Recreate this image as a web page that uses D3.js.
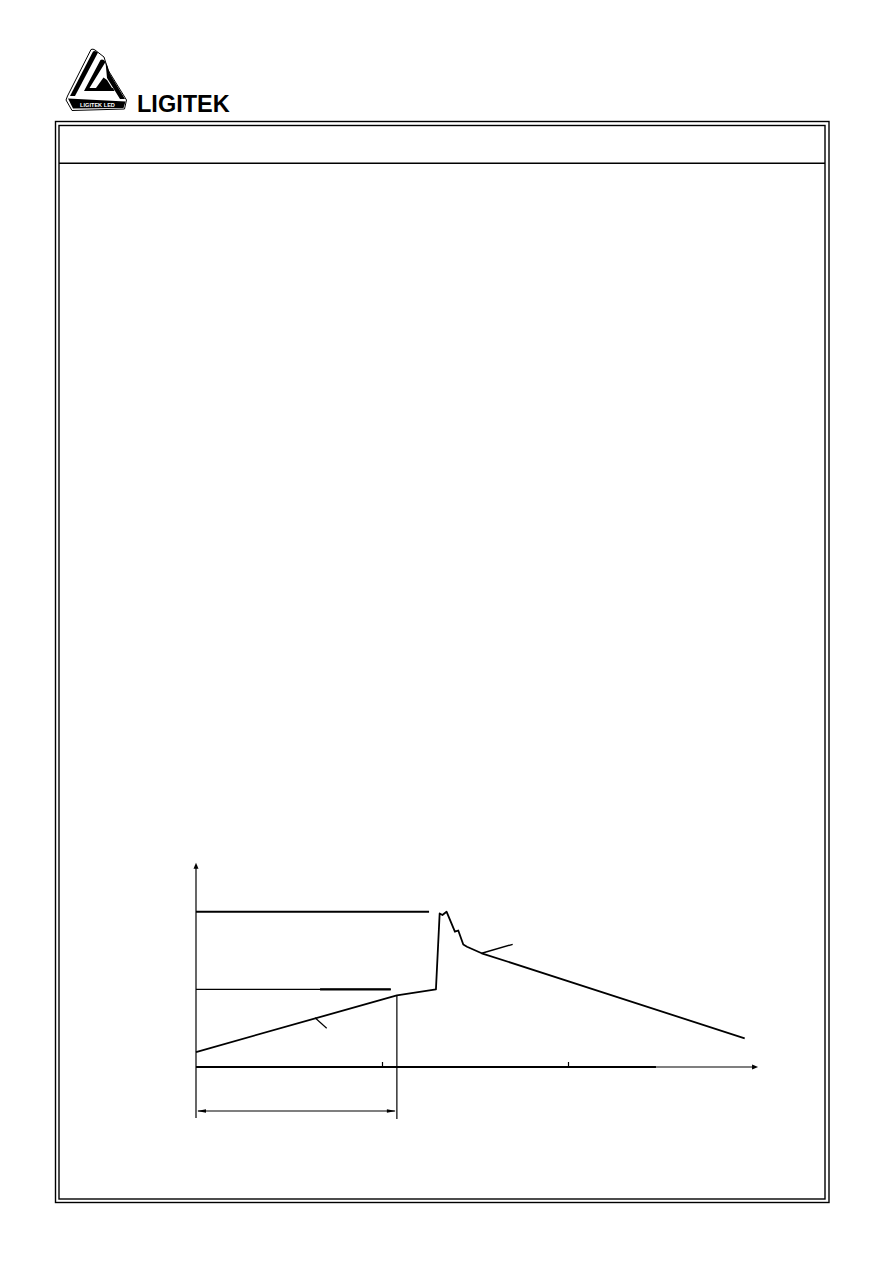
<!DOCTYPE html>
<html><head><meta charset="utf-8">
<script src="https://cdn.jsdelivr.net/npm/d3@7"></script>
<style>body{margin:0;background:#fff}svg{display:block}</style>
</head><body>
<script>
// Reflow soldering profile (time in s, temperature in °C)
const profileTime = [0, 108, 129, 131, 132.5, 134.7, 139.2, 141, 143.7, 145.7, 153.6, 295];
const profileTemp = [25, 120, 130, 257, 254.5, 260, 226.5, 228.5, 205, 201.4, 190.4, 48];
const limitTemps = [260, 130];          // horizontal reference lines
const limitEnds = [125.3, 104.7];       // where each reference line stops (s)
const xTicks = [100, 200];
const preheatEnd = 108;                 // dimension / vertical line
const brandName = "LIGITEK";
const logoText = "LIGITEK LED";

const W = 892, H = 1261;
const svg = d3.select("body").append("svg").attr("width", W).attr("height", H);

// page frame
svg.append("rect").attr("x", 55.5).attr("y", 121.5).attr("width", 773.5).attr("height", 1081)
  .attr("fill", "none").attr("stroke", "#000").attr("stroke-width", 1.4);
svg.append("rect").attr("x", 59).attr("y", 125.5).attr("width", 766).attr("height", 1073.5)
  .attr("fill", "none").attr("stroke", "#000").attr("stroke-width", 1.4);
svg.append("line").attr("x1", 59).attr("x2", 825).attr("y1", 163.3).attr("y2", 163.3)
  .attr("stroke", "#000").attr("stroke-width", 1.4);

// logo
const lg = svg.append("g");
// thin outer outline
lg.append("path").attr("d", "M91,49.5 Q93,48.5 95,50 L104,57 L108,70 L126.5,100 L124.5,109 L72,110.5 L66,100 L67.5,96 Z")
  .attr("fill", "none").attr("stroke", "#000").attr("stroke-width", 1);
// band A (left stroke)
lg.append("path").attr("d", "M93,51.5 Q95,50 98,52.5 L75,96 L70,96 Z").attr("fill", "#000");
// band B with L foot
lg.append("path").attr("d", "M100.5,60 Q103,58.5 105.5,62 L89.5,88 L113,88 L114.5,91 L84,91 Z").attr("fill", "#000");
// small triangle
lg.append("path").attr("d", "M96,88 L103.5,77.5 L107,80 L112,88 Z").attr("fill", "#000");
// right band
lg.append("path").attr("d", "M105.5,62 L107.5,66 L110,74 L125,99 L120,99 L107,78 Z").attr("fill", "#000");
// banner
lg.append("path").attr("d", "M68,98.5 L125.5,101.5 L123.5,108 L73,108.5 Z").attr("fill", "#000");
lg.append("text").attr("x", 97.5).attr("y", 106.8).attr("text-anchor", "middle")
  .attr("font-family", "Liberation Sans, Arial, sans-serif").attr("font-size", 5.6).attr("font-weight", "bold")
  .attr("fill", "#fff").text(logoText);
svg.append("text").attr("x", 137).attr("y", 112.3)
  .attr("font-family", "Liberation Sans, Arial, sans-serif").attr("font-size", 23.5).attr("font-weight", "bold")
  .attr("fill", "#000").text(brandName);

// scales
const x = d3.scaleLinear().domain([0, 200]).range([196, 568]);
const y = d3.scaleLinear().domain([0, 260]).range([1067, 911.7]);
const xEnd = 302.2, yTop = 342, xThickEnd = 247.3;

const g = svg.append("g");
// y axis
g.append("line").attr("x1", x(0)).attr("x2", x(0)).attr("y1", y(yTop) + 4).attr("y2", 1118)
  .attr("stroke", "#000").attr("stroke-width", 1.2);
g.append("path").attr("d", `M${x(0)},${y(yTop)} l-2.5,6 l5,0 Z`).attr("fill", "#000");
// x axis
g.append("line").attr("x1", x(0)).attr("x2", x(xThickEnd)).attr("y1", y(0)).attr("y2", y(0))
  .attr("stroke", "#000").attr("stroke-width", 2.2);
g.append("line").attr("x1", x(xThickEnd)).attr("x2", x(xEnd) - 3).attr("y1", y(0)).attr("y2", y(0))
  .attr("stroke", "#000").attr("stroke-width", 1.2);
g.append("path").attr("d", `M${x(xEnd)},${y(0)} l-6,-2.5 l0,5 Z`).attr("fill", "#000");
const ax = g.append("g").attr("transform", `translate(0,${y(0)})`)
  .call(d3.axisTop(x).tickValues(xTicks).tickSize(5).tickFormat(""));
ax.select(".domain").remove();
ax.selectAll(".tick line").attr("stroke", "#000").attr("stroke-width", 1.2);

// reference lines
g.append("line").attr("x1", x(0)).attr("x2", x(limitEnds[0])).attr("y1", y(limitTemps[0])).attr("y2", y(limitTemps[0]))
  .attr("stroke", "#000").attr("stroke-width", 2);
g.append("line").attr("x1", x(0)).attr("x2", x(limitEnds[1])).attr("y1", y(limitTemps[1])).attr("y2", y(limitTemps[1]))
  .attr("stroke", "#000").attr("stroke-width", 1.2);
g.append("line").attr("x1", x(66.7)).attr("x2", x(limitEnds[1])).attr("y1", y(limitTemps[1])).attr("y2", y(limitTemps[1]))
  .attr("stroke", "#000").attr("stroke-width", 2.2);

// profile curve
const pts = profileTime.map((t, i) => [t, profileTemp[i]]);
g.append("path").datum(pts)
  .attr("d", d3.line().x(d => x(d[0])).y(d => y(d[1])))
  .attr("fill", "none").attr("stroke", "#000").attr("stroke-width", 1.8).attr("stroke-linejoin", "round");

// vertical line at preheat end
g.append("line").attr("x1", x(preheatEnd)).attr("x2", x(preheatEnd))
  .attr("y1", y(120)).attr("y2", 1119).attr("stroke", "#000").attr("stroke-width", 1.2);

// dimension line with arrows
const dy = 1111;
g.append("line").attr("x1", x(0) + 2).attr("x2", x(preheatEnd) - 2).attr("y1", dy).attr("y2", dy)
  .attr("stroke", "#000").attr("stroke-width", 1.2);
g.append("path").attr("d", `M${x(0) + 1},${dy} l9,-1.8 l0,3.6 Z`).attr("fill", "#000");
g.append("path").attr("d", `M${x(preheatEnd) - 1},${dy} l-9,-1.8 l0,3.6 Z`).attr("fill", "#000");

// leader lines
g.append("line").attr("x1", x(153.6)).attr("y1", y(190.4)).attr("x2", 512.7).attr("y2", 944.3)
  .attr("stroke", "#000").attr("stroke-width", 1.4);
g.append("line").attr("x1", 315).attr("y1", 1017.7).attr("x2", 326.7).attr("y2", 1028.3)
  .attr("stroke", "#000").attr("stroke-width", 1.2);
</script>
</body></html>
